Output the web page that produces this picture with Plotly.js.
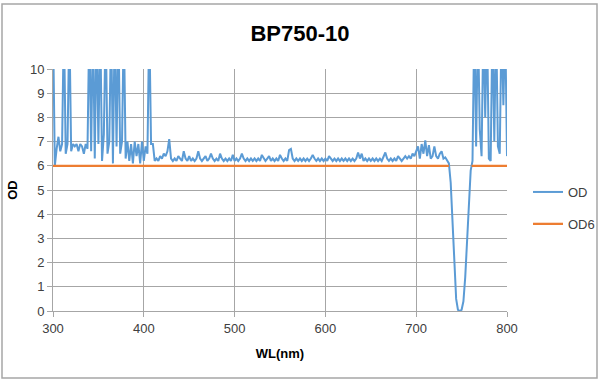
<!DOCTYPE html>
<html>
<head>
<meta charset="utf-8">
<script src="https://cdn.plot.ly/plotly-3.0.1.min.js"></script>
<style>
html,body{margin:0;padding:0;background:#fff;}
#chart{width:600px;height:383px;}
</style>
</head>
<body>
<div id="chart"></div>
<script>
// Wavelength grid (nm): first value and spacing of the OD samples
const WL_START = 300;
const WL_STEP = 2;

// Measured optical density, one value every 2 nm from 300 to 800 nm
const od = [
  12, 6.0, 6.7, 7.2, 6.6, 6.9, 12, 6.5, 6.9, 12,
  6.6, 6.9, 6.8, 6.9, 6.6, 6.9, 6.8, 6.5, 6.9, 6.7,
  12, 6.6, 12, 6.3, 12, 6.9, 12, 6.2, 7.3, 12,
  6.5, 7.0, 12, 6.1, 12, 6.8, 12, 6.5, 7.0, 12,
  6.3, 7.0, 6.2, 6.9, 6.1, 7.0, 6.4, 6.9, 6.1, 7.0,
  6.2, 6.8, 6.5, 12, 6.9, 6.9, 6.2, 6.3, 6.2, 6.4,
  6.3, 6.5, 6.4, 6.6, 7.1, 6.3, 6.2, 6.3, 6.2, 6.4,
  6.3, 6.2, 6.6, 6.3, 6.2, 6.4, 6.2, 6.3, 6.2, 6.3,
  6.6, 6.3, 6.2, 6.3, 6.4, 6.2, 6.3, 6.5, 6.3, 6.2,
  6.3, 6.2, 6.5, 6.3, 6.2, 6.3, 6.2, 6.3, 6.2, 6.45,
  6.2, 6.3, 6.2, 6.3, 6.5, 6.3, 6.2, 6.3, 6.2, 6.3,
  6.2, 6.3, 6.2, 6.3, 6.2, 6.45, 6.3, 6.2, 6.3, 6.4,
  6.2, 6.3, 6.2, 6.3, 6.2, 6.45, 6.3, 6.2, 6.3, 6.2,
  6.65, 6.7, 6.3, 6.2, 6.3, 6.2, 6.3, 6.2, 6.3, 6.2,
  6.3, 6.2, 6.3, 6.45, 6.3, 6.2, 6.3, 6.2, 6.3, 6.2,
  6.3, 6.2, 6.4, 6.3, 6.2, 6.3, 6.2, 6.3, 6.2, 6.3,
  6.2, 6.3, 6.2, 6.3, 6.2, 6.3, 6.2, 6.3, 6.55, 6.3,
  6.5, 6.2, 6.3, 6.2, 6.3, 6.2, 6.3, 6.2, 6.3, 6.2,
  6.3, 6.2, 6.4, 6.55, 6.3, 6.2, 6.3, 6.2, 6.3, 6.2,
  6.4, 6.3, 6.2, 6.3, 6.4, 6.3, 6.4, 6.3, 6.5, 6.4,
  6.6, 6.8, 6.3, 6.9, 6.5, 7.05, 6.4, 6.85, 6.3, 6.4,
  6.8, 6.4, 6.3, 6.5, 6.6, 6.3, 6.35, 6.2, 6.1, 5.3,
  3.8, 1.9, 0.5, 0.05, 0, 0.05, 0.4, 1.4, 3.0, 4.6,
  5.8, 6.2, 12, 6.8, 12, 7.5, 6.4, 12, 8.0, 12,
  6.3, 6.2, 12, 7.0, 12, 6.8, 6.5, 12, 8.5, 12,
  6.4
];

// OD6 reference level (blank where the pass band is)
const od6Wl = [300, 736, 737, 761, 800];
const od6 = [6, 6, null, 6, 6];

const seriesNames = ['OD', 'OD6'];
const chartTitle = 'BP750-10';
const xTitle = 'WL(nm)';
const yTitle = 'OD';

const FONT = '"Liberation Sans", Arial, sans-serif';

const traces = [
  {
    type: 'scatter', mode: 'lines', name: seriesNames[0],
    x0: WL_START, dx: WL_STEP, y: od,
    line: {color: '#5b9bd5', width: 2},
    legendgroup: 'a'
  },
  {
    type: 'scatter', mode: 'lines', name: seriesNames[1],
    x: od6Wl, y: od6,
    line: {color: '#ed7d31', width: 2.25},
    connectgaps: false,
    legendgroup: 'b'
  }
];

const layout = {
  width: 600, height: 383,
  paper_bgcolor: '#ffffff', plot_bgcolor: '#ffffff',
  margin: {l: 53, r: 93, t: 69, b: 72},
  font: {family: FONT, size: 13, color: '#404040'},
  title: {
    text: '<b>' + chartTitle + '</b>',
    font: {family: FONT, size: 22, color: '#000000'},
    x: 0.5, xref: 'container', xanchor: 'center',
    y: 1 - 33/383, yref: 'container', yanchor: 'middle'
  },
  xaxis: {
    range: [300, 800], dtick: 100, tick0: 300,
    showgrid: true, gridcolor: '#a6a6a6', gridwidth: 1,
    showline: true, linecolor: '#a6a6a6', linewidth: 1,
    ticks: 'outside', ticklen: 5, tickcolor: '#a6a6a6',
    zeroline: false, fixedrange: true, automargin: false,
    tickfont: {family: FONT, size: 13, color: '#404040'},
    title: {text: '<b>' + xTitle + '</b>', font: {family: FONT, size: 13, color: '#000000'}, standoff: 14}
  },
  yaxis: {
    range: [0, 10], dtick: 1, tick0: 0,
    showgrid: true, gridcolor: '#a6a6a6', gridwidth: 1,
    showline: true, linecolor: '#a6a6a6', linewidth: 1,
    ticks: 'outside', ticklen: 5, tickcolor: '#a6a6a6',
    zeroline: false, fixedrange: true, automargin: false,
    tickfont: {family: FONT, size: 13, color: '#404040'},
    title: {text: '<b>' + yTitle + '</b>', font: {family: FONT, size: 13, color: '#000000'}, standoff: 9}
  },
  showlegend: true,
  legend: {
    xref: 'container', yref: 'container',
    x: 528/600, xanchor: 'left', y: 1 - 208/383, yanchor: 'middle',
    font: {family: FONT, size: 13, color: '#404040'},
    bgcolor: 'rgba(0,0,0,0)', borderwidth: 0,
    tracegroupgap: 12, traceorder: 'grouped'
  },
  shapes: [{
    type: 'rect', xref: 'paper', yref: 'paper',
    x0: (2 - 53) / 454, x1: (597 - 53) / 454,
    y0: (311 - 378) / 242, y1: (311 - 4) / 242,
    line: {color: '#a6a6a6', width: 1.5}, fillcolor: 'rgba(0,0,0,0)', layer: 'below'
  }]
};

Plotly.newPlot('chart', traces, layout, {displayModeBar: false, staticPlot: true});
</script>
</body>
</html>
